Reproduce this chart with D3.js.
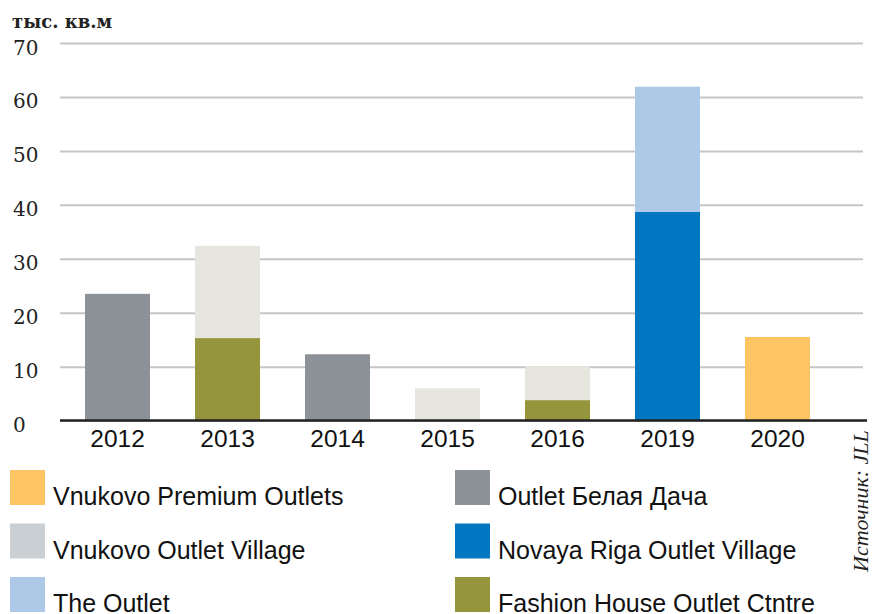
<!DOCTYPE html>
<html>
<head>
<meta charset="utf-8">
<script src="https://cdn.jsdelivr.net/npm/d3@7"></script>
<style>
  body { margin: 0; background: #fff; }
  .axis text { font-family: "DejaVu Serif", serif; font-size: 20px; fill: #222; }
  .x-axis text { font-family: "Liberation Sans", Arial, sans-serif; font-size: 24.5px; fill: #111; }
  .legend text { font-family: "Liberation Sans", Arial, sans-serif; font-size: 25px; fill: #111; }
</style>
</head>
<body>
<svg id="chart"></svg>
<script>
// data, thousand sq. m
const years = ['2012', '2013', '2014', '2015', '2016', '2019', '2020'];
const belayaDacha    = [23.5, 0, 12.3, 0, 0, 0, 0];
const fashionHouse   = [0, 15.3, 0, 0, 3.8, 0, 0];
const vnukovoVillage = [0, 17.1, 0, 6.0, 6.3, 0, 0];
const novayaRiga     = [0, 0, 0, 0, 0, 38.7, 0];
const theOutlet      = [0, 0, 0, 0, 0, 23.2, 0];
const vnukovoPremium = [0, 0, 0, 0, 0, 0, 15.5];
const yTicks = [0, 10, 20, 30, 40, 50, 60, 70];

// stack order, bottom to top
const seriesKeys = ['belayaDacha', 'fashionHouse', 'vnukovoVillage', 'novayaRiga', 'theOutlet', 'vnukovoPremium'];
const seriesValues = { belayaDacha, fashionHouse, vnukovoVillage, novayaRiga, theOutlet, vnukovoPremium };
const seriesNames = {
  vnukovoPremium: 'Vnukovo Premium Outlets',
  vnukovoVillage: 'Vnukovo Outlet Village',
  theOutlet: 'The Outlet',
  belayaDacha: 'Outlet Белая Дача',
  novayaRiga: 'Novaya Riga Outlet Village',
  fashionHouse: 'Fashion House Outlet Ctntre'
};
// legend layout: two columns of three
const legendOrder = ['vnukovoPremium', 'vnukovoVillage', 'theOutlet', 'belayaDacha', 'novayaRiga', 'fashionHouse'];

class StackedBars {
  constructor(_config) {
    this.config = {
      parentElement: _config.parentElement,
      containerWidth: _config.containerWidth || 885,
      containerHeight: _config.containerHeight || 614,
      margin: _config.margin || {top: 43, right: 22, bottom: 193, left: 60}
    };
    this.colors = {
      belayaDacha: '#8d9299',
      fashionHouse: '#95953d',
      vnukovoVillage: '#e6e6df',
      novayaRiga: '#0077c0',
      theOutlet: '#aec9e8',
      vnukovoPremium: '#fdc463'
    };
    // the legend swatch for Vnukovo Outlet Village is a cooler grey than its bars
    this.legendColors = Object.assign({}, this.colors, {vnukovoVillage: '#c9cfd2'});
    this.initVis();
  }

  initVis() {
    let vis = this;
    vis.width = vis.config.containerWidth - vis.config.margin.left - vis.config.margin.right;
    vis.height = 420.6 - vis.config.margin.top;

    vis.svg = d3.select(vis.config.parentElement)
      .attr('width', vis.config.containerWidth)
      .attr('height', vis.config.containerHeight);

    vis.chart = vis.svg.append('g')
      .attr('transform', `translate(${vis.config.margin.left},${vis.config.margin.top})`);

    vis.xScale = d3.scaleBand().domain(years).range([2.5, 772.5])
      .paddingInner(0.409).paddingOuter(0.2045);
    vis.yScale = d3.scaleLinear().domain([0, 70]).range([vis.height, 0]);

    vis.yAxisG = vis.chart.append('g').attr('class', 'axis y-axis');
    vis.barsG = vis.chart.append('g');
    vis.xAxisG = vis.chart.append('g').attr('class', 'axis x-axis')
      .attr('transform', `translate(0,${vis.height})`);

    vis.svg.append('text')
      .attr('x', 12).attr('y', 28)
      .style('font-family', '"DejaVu Serif", serif')
      .style('font-size', '18px').style('font-weight', 'bold').style('fill', '#222')
      .text('тыс. кв.м');

    vis.svg.append('text')
      .attr('transform', 'translate(868,572) rotate(-90)')
      .style('font-family', '"Liberation Serif", serif')
      .style('font-style', 'italic').style('font-size', '22px').style('fill', '#222')
      .text('Источник: JLL');
  }

  updateVis() {
    let vis = this;
    vis.rows = years.map((y, i) => {
      const row = {year: y};
      seriesKeys.forEach(k => row[k] = seriesValues[k][i]);
      return row;
    });
    vis.stacked = d3.stack().keys(seriesKeys)(vis.rows);
    vis.renderVis();
  }

  renderVis() {
    let vis = this;

    vis.yAxisG.call(d3.axisLeft(vis.yScale).tickValues(yTicks).tickSize(-vis.width).tickFormat(d3.format('d')))
      .call(g => g.select('.domain').remove())
      .call(g => g.selectAll('.tick line').attr('stroke', '#c6c6c6').attr('stroke-width', 2))
      .call(g => g.selectAll('.tick text').attr('x', -47).attr('dy', '0.55em').attr('text-anchor', 'start'));

    vis.barsG.selectAll('.layer')
      .data(vis.stacked)
      .join('g')
      .attr('class', 'layer')
      .attr('fill', d => vis.colors[d.key])
      .selectAll('rect')
      .data(d => d.filter(s => s[1] - s[0] > 0))
      .join('rect')
      .attr('x', d => vis.xScale(d.data.year))
      .attr('width', vis.xScale.bandwidth())
      .attr('y', d => vis.yScale(d[1]))
      .attr('height', d => vis.yScale(d[0]) - vis.yScale(d[1]));

    vis.xAxisG.call(d3.axisBottom(vis.xScale).tickSize(0).tickPadding(9))
      .call(g => g.select('.domain').remove());

    vis.xAxisG.append('line')
      .attr('x1', 0).attr('x2', vis.width + 4)
      .attr('stroke', '#222').attr('stroke-width', 2.5);

    // legend
    const legend = vis.svg.append('g').attr('class', 'legend');
    const items = legend.selectAll('g')
      .data(legendOrder)
      .join('g')
      .attr('transform', (d, i) => `translate(${i < 3 ? 10 : 455},${470 + (i % 3) * 53.5})`);

    items.append('rect')
      .attr('width', 35).attr('height', 35)
      .attr('fill', d => vis.legendColors[d]);

    items.append('text')
      .attr('x', 43).attr('y', 35)
      .text(d => seriesNames[d]);
  }
}

const chart = new StackedBars({parentElement: '#chart'});
chart.updateVis();
</script>
</body>
</html>
